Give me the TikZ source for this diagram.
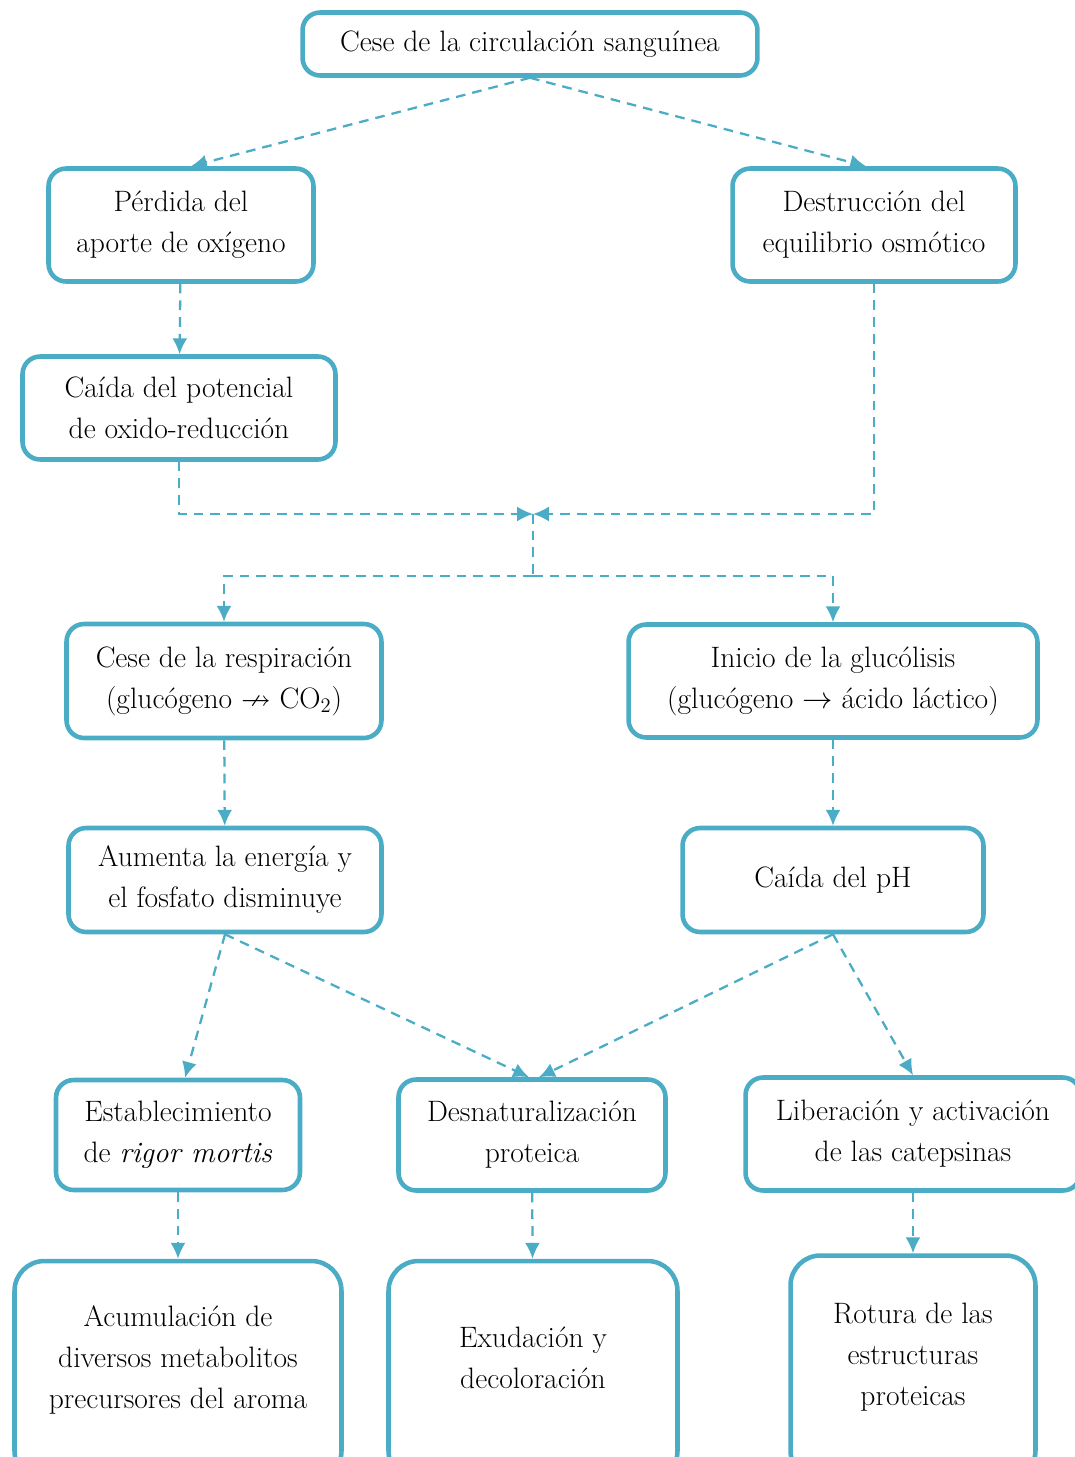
\documentclass[tikz,border=0pt]{standalone}
\usepackage{amssymb}
\usepackage{fontspec}
\setmainfont{Latin Modern Roman}
\usetikzlibrary{arrows.meta}
\definecolor{boxblue}{HTML}{4BACC6}
\newcommand\boxfont{\fontsize{16.8pt}{23.3pt}\selectfont}

\begin{document}
\begin{tikzpicture}
          [x=0.02cm, y=-0.02cm,
           main/.style = {draw=boxblue, line width=2.6pt, rounded corners=10pt, align=center, inner sep=2pt,
                          font=\boxfont},
           tall/.style = {main, rounded corners=17pt, text depth=0.55cm},
           flow/.style = {draw=boxblue, line width=1.3pt, dash pattern=on 5.5pt off 4pt, -{Latex[length=9pt,width=8.5pt]}},
           link/.style = {draw=boxblue, line width=1.3pt, dash pattern=on 5.5pt off 4pt}]
          \useasboundingbox (0,0) rectangle (1075,1457);
          \node[main, minimum width=9.1cm, minimum height=1.26cm] (cese) at (530,44) {Cese de la circulación sanguínea};
          \node[main, minimum width=5.3cm, minimum height=2.26cm] (perd) at (181,225) {Pérdida del\\aporte de oxígeno};
          \node[main, minimum width=5.66cm, minimum height=2.26cm] (dest) at (874,225) {Destrucción del\\equilibrio osmótico};
          \node[main, minimum width=6.26cm, minimum height=2.06cm] (pot) at (179,408) {Caída del potencial\\de oxido-reducción};
          \node[main, minimum width=6.3cm, minimum height=2.28cm] (resp) at (224,681) {Cese de la respiración\\(glucógeno $\nrightarrow$ CO\textsubscript{2})};
          \node[main, minimum width=8.18cm, minimum height=2.26cm] (gluc) at (833,681) {Inicio de la glucólisis\\(glucógeno $\rightarrow$ ácido láctico)};
          \node[main, minimum width=6.26cm, minimum height=2.08cm] (ener) at (225,880) {Aumenta la energía y\\el fosfato disminuye};
          \node[main, minimum width=6.02cm, minimum height=2.08cm] (ph) at (833,880) {Caída del pH};
          \node[main, minimum width=4.88cm, minimum height=2.2cm] (rig) at (178,1135) {Establecimiento\\de \textit{rigor mortis}};
          \node[main, minimum width=5.34cm, minimum height=2.22cm] (desn) at (532,1135) {Desnaturalización\\proteica};
          \node[main, minimum width=6.7cm, minimum height=2.26cm] (lib) at (913,1134) {Liberación y activación\\de las catepsinas};
          \node[tall, minimum width=6.54cm, minimum height=4.4cm] (acum) at (178,1371) {Acumulación de\\diversos metabolitos\\precursores del aroma};
          \node[tall, minimum width=5.78cm, minimum height=4.4cm] (exud) at (533,1371) {Exudación y\\decoloración};
          \node[tall, minimum width=4.9cm, minimum height=4.5cm] (rot) at (913,1368) {Rotura de las\\estructuras\\proteicas};
          \coordinate (j) at (533,514);
          \coordinate (k) at (533,576);

          \draw[flow] (cese.south) to ([xshift=0.2cm]perd.north);
          \draw[flow] (cese.south) to ([xshift=-0.16cm]dest.north);
          \draw[flow] (perd) to (pot);
          \draw[flow] (pot.south) |- (j);
          \draw[flow] (dest.south) |- (j);
          \draw[link] (j) to (k);
          \draw[flow] (k) -| (resp.north);
          \draw[flow] (k) -| (gluc.north);
          \draw[flow] (resp) to (ener);
          \draw[flow] (gluc) to (ph);
          \draw[flow] (ener.south) to ([xshift=0.14cm]rig.north);
          \draw[flow] (ener.south) to ([xshift=-0.06cm]desn.north);
          \draw[flow] (ph.south) to ([xshift=0.14cm]desn.north);
          \draw[flow] (ph.south) to (lib.north);
          \draw[flow] (rig) to (acum);
          \draw[flow] (desn) to (exud);
          \draw[flow] (lib) to (rot);
\end{tikzpicture}
\end{document}
